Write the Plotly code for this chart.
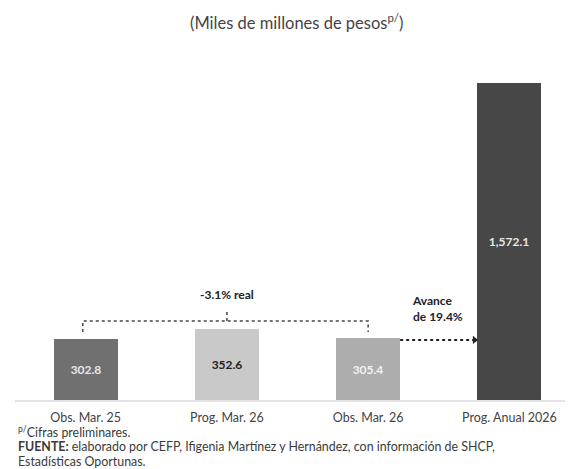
import plotly.graph_objects as go

categories = ['Obs. Mar. 25', 'Prog. Mar. 26', 'Obs. Mar. 26', 'Prog. Anual 2026']
values = [302.8, 352.6, 305.4, 1572.1]
bar_colors = ['#707070', '#c9c9c9', '#adadad', '#474747']
label_colors = ['#e6e6e6', '#222222', '#f2f2f2', '#e6e6e6']
change_label = '-3.1% real'
progress_label = 'Avance<br>de 19.4%'

font = 'Lato'
bw = 0.453
xs = list(range(len(categories)))

fig = go.Figure()
fig.add_trace(go.Bar(
    x=xs, y=values, width=bw,
    marker=dict(color=bar_colors, line=dict(width=0)),
    text=['<b>{:,.1f}</b>'.format(v) for v in values],
    textposition='inside', insidetextanchor='middle',
    textfont=dict(family=font, size=12, color=label_colors),
    showlegend=False, hoverinfo='skip'))

# bracket between Obs. Mar. 25 and Obs. Mar. 26
br_y = 392
fig.add_trace(go.Scatter(x=[-0.02, -0.02, 2, 2], y=[337, br_y, br_y, 337], mode='lines',
                         line=dict(color='#444444', width=1.5, dash='dot'),
                         showlegend=False, hoverinfo='skip'))
fig.add_trace(go.Scatter(x=[1, 1], y=[br_y, 441], mode='lines',
                         line=dict(color='#444444', width=1.5, dash='dot'),
                         showlegend=False, hoverinfo='skip'))

# dotted arrow from Obs. Mar. 26 to Prog. Anual
ar_y = 298
fig.add_trace(go.Scatter(x=[2 + bw / 2, 3 - bw / 2 - 0.03], y=[ar_y, ar_y], mode='lines',
                         line=dict(color='#222222', width=2, dash='dot'),
                         showlegend=False, hoverinfo='skip'))
fig.add_trace(go.Scatter(x=[3 - bw / 2 - 0.02], y=[ar_y], mode='markers',
                         marker=dict(symbol='triangle-right', size=7, color='#222222'),
                         showlegend=False, hoverinfo='skip'))

fig.add_annotation(x=1, y=521, text='<b>' + change_label + '</b>', showarrow=False,
                   font=dict(family=font, size=12, color='#222222'))
fig.add_annotation(x=2 + bw / 2 + 0.069, y=452, text='<b>' + progress_label + '</b>',
                   showarrow=False, xanchor='left', align='left',
                   font=dict(family=font, size=12, color='#222222'))

fig.add_annotation(x=0.505, y=1.112, xref='paper', yref='paper', yanchor='middle',
                   text='(Miles de millones de pesos<sup>p/</sup>)', showarrow=False,
                   font=dict(family=font, size=16.5, color='#444444'), xanchor='center')

notes = [
    '<sup>p/</sup>Cifras preliminares.',
    '<b>FUENTE:</b> elaborado por CEFP, Ifigenia Martínez y Hernández, con información de SHCP,',
    'Estadísticas Oportunas.',
]
for i, n in enumerate(notes):
    fig.add_annotation(x=0.002, y=-0.094 - i * 0.044, xref='paper', yref='paper', text=n,
                       showarrow=False, xanchor='left', yanchor='middle',
                       font=dict(family=font, size=12.4, color='#3a3a3a'))

fig.update_layout(
    width=573, height=469,
    margin=dict(l=7, r=8, t=52, b=77),
    paper_bgcolor='white', plot_bgcolor='white',
    xaxis=dict(range=[-0.5, 3.45], tickmode='array', tickvals=xs, ticktext=categories,
               showline=True, linecolor='#e3e3e3', linewidth=2, showgrid=False,
               zeroline=False, ticks='', ticklabelstandoff=5,
               tickfont=dict(family=font, size=12.5, color='#444444')),
    yaxis=dict(range=[0, 1686], visible=False, showgrid=False, zeroline=False),
    bargap=0,
)

fig.write_html('out.html')
